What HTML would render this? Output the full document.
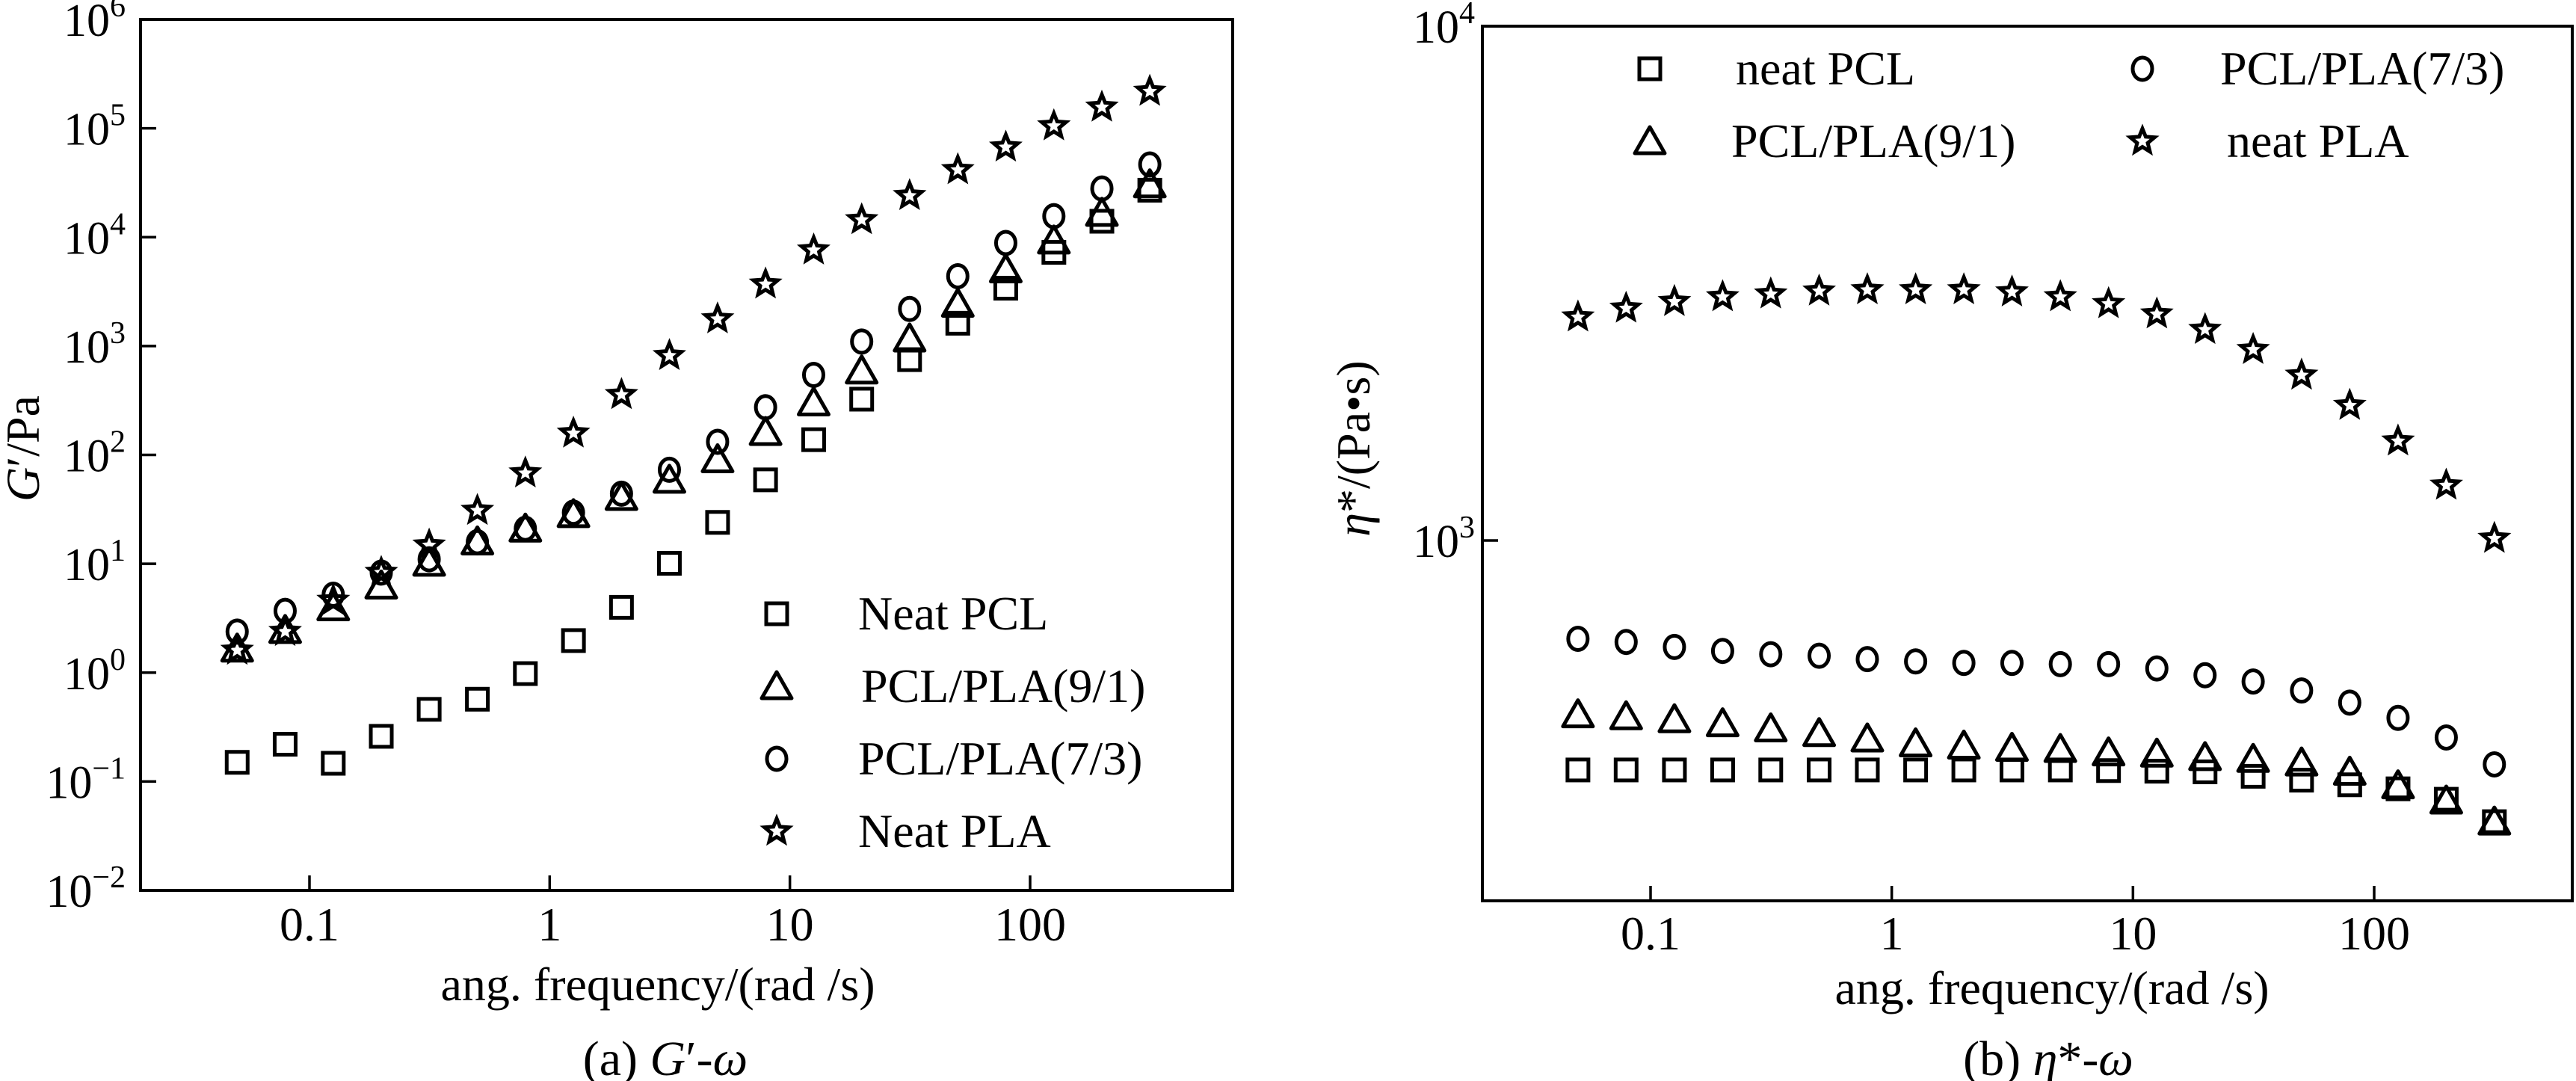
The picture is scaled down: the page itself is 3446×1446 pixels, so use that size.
<!DOCTYPE html>
<html><head><meta charset="utf-8"><style>
html,body{margin:0;padding:0;background:#fff}
svg{display:block}
text{font-family:"Liberation Serif",serif;fill:#000}
</style></head><body>
<svg id="fig" width="3446" height="1446" viewBox="0 0 3446 1446" xmlns="http://www.w3.org/2000/svg"></svg>
<script>
const freq=[0.05,0.0792,0.1256,0.199,0.315,0.5,0.792,1.256,1.99,3.15,5,7.92,12.56,19.9,31.5,50,79.2,125.6,199,315];
const gPCL=[0.15,0.22,0.147,0.26,0.46,0.57,0.98,1.97,3.98,10.1,24,59,138,325,750,1620,3400,7250,14000,27000];
const gB91=[1.66,2.46,3.97,6.3,10.2,16,21,28.5,41,59,91,162,303,595,1170,2440,5050,9300,16700,30500];
const gB73=[2.38,3.69,5.2,8.3,11,15.8,21,29.5,44,73,132,274,543,1100,2190,4380,8850,15600,28000,46500];
const gPLA=[1.6,2.38,4.6,8.3,14.8,30.8,68,158,357,815,1770,3700,7600,14400,24000,41500,67000,105000,156000,218000];
const ePCL=[358,358,358,358,358,358,358,358,358,358,358,357,356,355,348,342,335,329,314,284];
const eB91=[459,455,449,441,431,422,412,403,399,395,393,387,385,379,376,370,355,334,312,284];
const eB73=[644,635,621,610,601,597,588,582,578,578,575,575,564,547,532,511,484,452,414,367];
const ePLA=[2718,2827,2913,2976,3013,3053,3070,3070,3070,3040,2976,2885,2755,2570,2350,2095,1830,1560,1280,1009];
const xTicks=[0.1,1,10,100];
const xTickLabels=["0.1","1","10","100"];
const gTickExp=[-2,-1,0,1,2,3,4,5,6];
const eTickExp=[3,4];

const NS="http://www.w3.org/2000/svg";
const svg=document.getElementById('fig');
function el(tag,attrs,parent){const e=document.createElementNS(NS,tag);for(const k in attrs)e.setAttribute(k,attrs[k]);(parent||svg).appendChild(e);return e;}
function logScale(d0,d1,r0,r1){return v=>r0+(Math.log10(v)-d0)/(d1-d0)*(r1-r0);}

function marker(g,type,x,y){
  let m;
  if(type==='sq'){m=el('rect',{x:x-14,y:y-14,width:28,height:28,fill:'none',stroke:'#000','stroke-width':5},g);}
  else if(type==='tri'){m=el('polygon',{points:`${x},${y-19} ${x+20},${y+16} ${x-20},${y+16}`,fill:'none',stroke:'#000','stroke-width':5,'stroke-linejoin':'round'},g);}
  else if(type==='cir'){m=el('ellipse',{cx:x,cy:y,rx:13,ry:15,fill:'none',stroke:'#000','stroke-width':5},g);}
  else {let p=[];for(let i=0;i<10;i++){const r=i%2?7.5:17;const a=-Math.PI/2+i*Math.PI/5;p.push((x+r*Math.cos(a)).toFixed(1)+','+(y+r*Math.sin(a)).toFixed(1));}
    m=el('polygon',{points:p.join(' '),fill:'none',stroke:'#000','stroke-width':5,'stroke-linejoin':'miter'},g);}
  return m;
}
function expLabel(g,x,y,e,anchor){
  const t=el('text',{x:x,y:y,'font-size':62,'text-anchor':anchor||'end'},g);
  
  
  const a=document.createElementNS(NS,'tspan');a.textContent='10';t.appendChild(a);
  const b=document.createElementNS(NS,'tspan');b.setAttribute('dy','-26');b.setAttribute('font-size','42');b.textContent=(e<0?'\u2212'+(-e):String(e));t.appendChild(b);
  return t;
}
function series(g,name,type,xs,ys,sx,sy){
  const sg=el('g',{},g);
  
  
  xs.forEach((v,i)=>{const m=marker(sg,type,sx(v),sy(ys[i]));
    
    });
}

// ---------- Panel A ----------
const A={l:188,r:1649,t:26,b:1191};
const ax=logScale(-1,2,414,1378);
const ay=logScale(-2,6,A.b,A.t);
const ga=el('g',{});


const fa=el('rect',{x:A.l,y:A.t,width:A.r-A.l,height:A.b-A.t,fill:'none',stroke:'#000','stroke-width':4},ga);


gTickExp.forEach(e=>{const y=ay(Math.pow(10,e));
  if(e>-2&&e<6){const t=el('line',{x1:A.l,x2:A.l+21,y1:y,y2:y,stroke:'#000','stroke-width':3.5},ga);}
  expLabel(ga,A.l-20,y+22,e);});
xTicks.forEach((v,i)=>{const x=ax(v);
  const t=el('line',{x1:x,x2:x,y1:A.b,y2:A.b-20,stroke:'#000','stroke-width':3.5},ga);
  const l=el('text',{x:x,y:1258,'font-size':64,'text-anchor':'middle'},ga);l.textContent=xTickLabels[i];
  });
series(ga,'series-neat-pcl','sq',freq,gPCL,ax,ay);
series(ga,'series-pcl-pla-9-1','tri',freq,gB91,ax,ay);
series(ga,'series-pcl-pla-7-3','cir',freq,gB73,ax,ay);
series(ga,'series-neat-pla','star',freq,gPLA,ax,ay);
let t;
t=el('text',{x:880,y:1338,'font-size':64,'text-anchor':'middle'},ga);t.textContent='ang. frequency/(rad /s)';

t=el('text',{x:890,y:1438,'font-size':66,'text-anchor':'middle'},ga);
t.innerHTML='(a) <tspan font-style="italic">G</tspan>\u2032-<tspan font-style="italic">\u03c9</tspan>';

t=el('text',{x:0,y:0,'font-size':64,'text-anchor':'middle',transform:'translate(52,600) rotate(-90)'},ga);
t.innerHTML='<tspan font-style="italic">G</tspan>\u2032/Pa';

const legA=[['sq','Neat PCL',1148],['tri','PCL/PLA(9/1)',1152],['cir','PCL/PLA(7/3)',1148],['star','Neat PLA',1148]];
const legARows=[821,918,1015,1112];
legA.forEach((d,i)=>{const lg=el('g',{},ga);
  
  marker(lg,d[0],1039,legARows[i]);
  const tx=el('text',{x:d[2],y:legARows[i]+21,'font-size':64},lg);tx.textContent=d[1];});

// ---------- Panel B ----------
const B={l:1983,r:3441,t:35,b:1205};
const bx=logScale(-1,2,2208,3176);
const by=logScale(3,4,723,35);
const gb=el('g',{});


const fb=el('rect',{x:B.l,y:B.t,width:B.r-B.l,height:B.b-B.t,fill:'none',stroke:'#000','stroke-width':4},gb);


eTickExp.forEach(e=>{const y=by(Math.pow(10,e));
  if(e===3){const tk=el('line',{x1:B.l,x2:B.l+21,y1:y,y2:y,stroke:'#000','stroke-width':3.5},gb);}
  expLabel(gb,B.l-10,y+22,e);});
xTicks.forEach((v,i)=>{const x=bx(v);
  const tk=el('line',{x1:x,x2:x,y1:B.b,y2:B.b-20,stroke:'#000','stroke-width':3.5},gb);
  const l=el('text',{x:x,y:1270,'font-size':64,'text-anchor':'middle'},gb);l.textContent=xTickLabels[i];
  });
series(gb,'series-neat-pcl','sq',freq,ePCL,bx,by);
series(gb,'series-pcl-pla-9-1','tri',freq,eB91,bx,by);
series(gb,'series-pcl-pla-7-3','cir',freq,eB73,bx,by);
series(gb,'series-neat-pla','star',freq,ePLA,bx,by);
t=el('text',{x:2745,y:1343,'font-size':64,'text-anchor':'middle'},gb);t.textContent='ang. frequency/(rad /s)';

t=el('text',{x:2740,y:1438,'font-size':66,'text-anchor':'middle'},gb);
t.innerHTML='(b) <tspan font-style="italic">\u03b7</tspan>*-<tspan font-style="italic">\u03c9</tspan>';

t=el('text',{x:0,y:0,'font-size':64,'text-anchor':'middle',transform:'translate(1832,600) rotate(-90)'},gb);
t.innerHTML='<tspan font-style="italic">\u03b7</tspan>*/(Pa\u2022s)';

const legB=[['sq','neat PCL',2207,2322,92],['tri','PCL/PLA(9/1)',2207,2316,189],['cir','PCL/PLA(7/3)',2866,2970,92],['star','neat PLA',2866,2979,189]];
legB.forEach(d=>{const lg=el('g',{},gb);
  
  marker(lg,d[0],d[2],d[4]);
  const tx=el('text',{x:d[3],y:d[4]+21,'font-size':64},lg);tx.textContent=d[1];});
</script>
</body></html>
